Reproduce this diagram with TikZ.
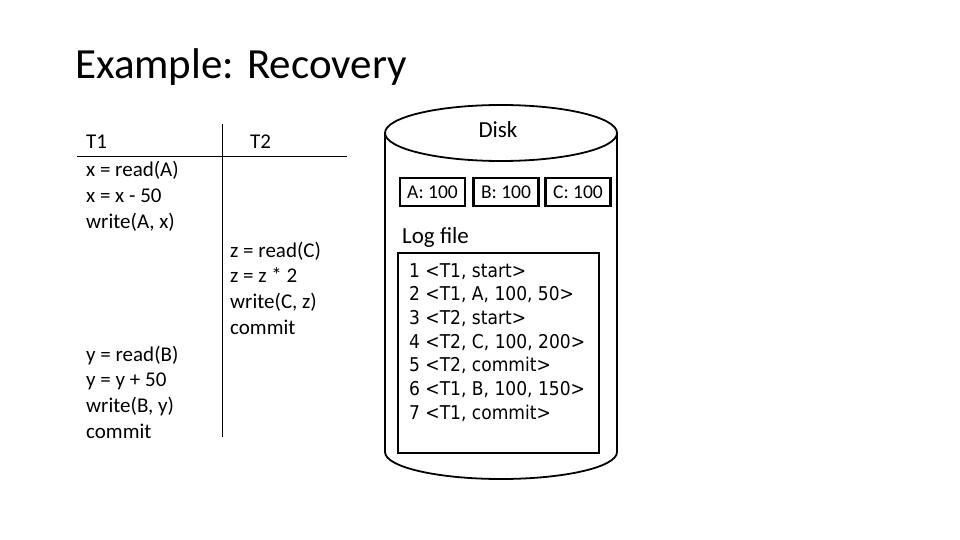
\documentclass[tikz,border=0pt]{standalone}
\usepackage{fontspec}
\setmainfont{Carlito}
\newfontfamily\logfont{DejaVu Sans Condensed}

\begin{document}
\begin{tikzpicture}[x=1pt,y=-1pt,
  txt/.style={anchor=base west,inner sep=0pt,font=\fontsize{21}{25}\selectfont},
  cell/.style={draw,line width=2.5pt,minimum width=65pt,minimum height=28pt,inner sep=0pt,font=\fontsize{19.5}{23}\selectfont},
  logline/.style={anchor=base west,inner sep=0pt,font=\logfont\fontsize{19}{23}\selectfont}]
\useasboundingbox (0,0) rectangle (960,540);
\node[anchor=base west,inner sep=0pt,font=\fontsize{43}{50}\selectfont] (title) at (75,79) {Example: Recovery};
%
\draw (77,156) -- (347,156);
\draw (222,124) -- (222,437);
\node[txt] (t1) at (86,149) {T1};
\node[txt] (t2) at (250,149) {T2};
	\node[txt] (a1) at (86,177) {x = read(A)};
	\node[txt] (a2) at (86,202.5) {x = x - 50};
	\node[txt] (a3) at (86,228) {write(A, x)};
	\node[txt] (c1) at (230,257) {z = read(C)};
	\node[txt] (c2) at (230,282.5) {z = z * 2};
	\node[txt] (c3) at (230,308) {write(C, z)};
	\node[txt] (c4) at (230,334) {commit};
	\node[txt] (b1) at (86,361) {y = read(B)};
	\node[txt] (b2) at (86,386.5) {y = y + 50};
	\node[txt] (b3) at (86,412) {write(B, y)};
	\node[txt] (b4) at (86,438) {commit};
%
\draw[line width=1.8pt] (385,133) -- (385,452) arc[start angle=180,end angle=0,x radius=116,y radius=27] -- (617,133);
\draw[line width=1.8pt,fill=white] (501,133) ellipse[x radius=116,y radius=28];
\node[anchor=base,inner sep=0pt,font=\fontsize{23}{27}\selectfont] (disk) at (498,138) {Disk};
%
\node[cell] (A) at (432.5,192) {A: 100};
\node[cell] (B) at (506,192) {B: 100};
\node[cell] (C) at (578,192) {C: 100};
\node[anchor=base west,inner sep=0pt,font=\fontsize{23}{27}\selectfont] (logname) at (402,243) {Log file};
\node[draw,line width=2.5pt,minimum width=201pt,minimum height=200pt,inner sep=0pt] (logbox) at (498.5,353) {};
	\node[logline] (l1) at (409,277) {1 <T1, start>};
	\node[logline] (l2) at (409,300.7) {2 <T1, A, 100, 50>};
	\node[logline] (l3) at (409,324.4) {3 <T2, start>};
	\node[logline] (l4) at (409,348.1) {4 <T2, C, 100, 200>};
	\node[logline] (l5) at (409,371.8) {5 <T2, commit>};
	\node[logline] (l6) at (409,395.5) {6 <T1, B, 100, 150>};
	\node[logline] (l7) at (409,419.2) {7 <T1, commit>};
\end{tikzpicture}
\end{document}
